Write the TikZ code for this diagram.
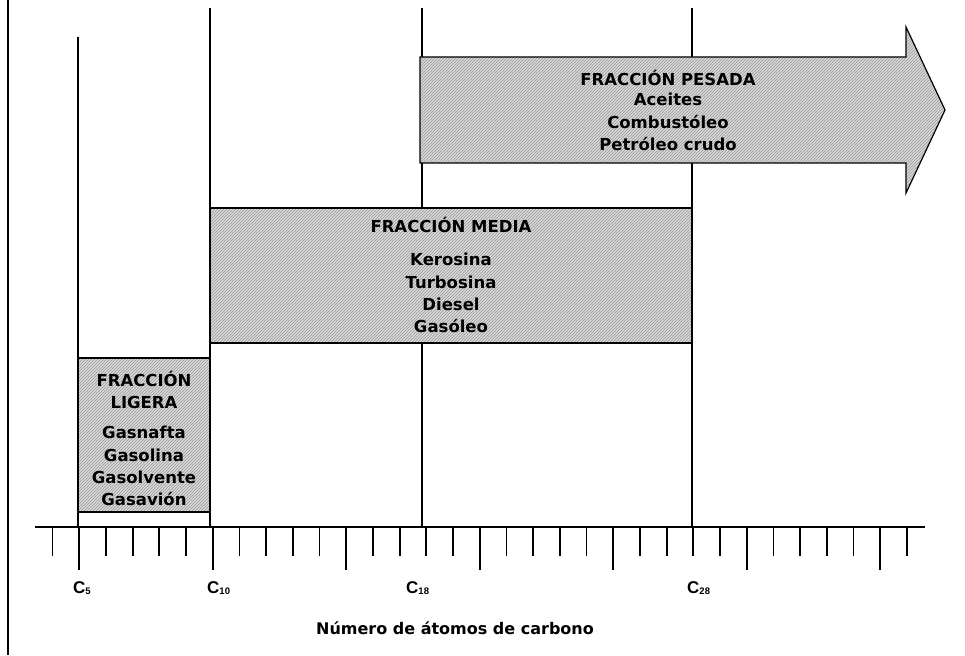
\documentclass[tikz,border=0pt]{standalone}
\usepackage{fontspec}
\setmainfont{DejaVu Sans}
\newfontfamily\arialfont{Liberation Sans}
\usetikzlibrary{patterns}
\tikzset{
  fracbox/.style={line width=1.2pt, preaction={fill=gray!30}, pattern=north east lines, pattern color=gray!80},
  guide/.style={line width=1.2pt},
  axisline/.style={line width=2pt},
  tickmark/.style={line width=1.8pt},
  txt/.style={font=\bfseries\fontsize{16.5}{22.3}\selectfont, align=center, inner sep=0pt},
  clab/.style={font=\arialfont\bfseries\fontsize{17}{17}\selectfont, inner sep=0pt, anchor=west},
  xlab/.style={font=\bfseries\fontsize{16}{16}\selectfont, inner sep=0pt}
}
\newcommand{\csub}[1]{C\raisebox{-0.5pt}{\fontsize{9.5}{9.5}\selectfont #1}}
\begin{document}
\begin{tikzpicture}[x=1pt,y=-1pt]
\useasboundingbox (0,0) rectangle (965,655);
% left border
\draw[line width=2.6pt] (8,0) -- (8,655);
% guide coordinates
\coordinate (g5t) at (78,37);   \coordinate (g5b) at (78,527);
\coordinate (g10t) at (210,8);  \coordinate (g10b) at (210,527);
\coordinate (g18t) at (422,8);  \coordinate (g18b) at (422,527);
\coordinate (g28t) at (692,8);  \coordinate (g28b) at (692,527);
\draw[guide] (g5t) -- (g5b);
\draw[guide] (g10t) -- (g10b);
\draw[guide] (g18t) -- (g18b);
\draw[guide] (g28t) -- (g28b);
% axis
\coordinate (axL) at (35,527); \coordinate (axR) at (925,527);
\draw[axisline] (axL) -- (axR);
\foreach \k in {0,...,32}{
  \pgfmathsetmacro{\xx}{52.5+26.7*\k}
  \pgfmathtruncatemacro{\m}{mod(\k+4,5)}
  \ifnum\m=0
    \draw[tickmark] (\xx,527) -- (\xx,570);
  \else
    \draw[tickmark] (\xx,527) -- (\xx,556);
  \fi
}
% heavy fraction arrow
\draw[fracbox] (420,57) -- (906,57) -- (906,27) -- (945,110) -- (906,193) -- (906,163) -- (420,163) -- cycle;
\node[txt] (pesadaT) at (668,78) {FRACCIÓN PESADA};
\node[txt, anchor=north] (pesadaL) at (668,93) {Aceites\\Combustóleo\\Petróleo crudo};
% middle fraction box
\draw[fracbox] (210,208) rectangle (692,343);
\node[txt] (mediaT) at (451,225) {FRACCIÓN MEDIA};
\node[txt, anchor=north] (mediaL) at (451,253) {Kerosina\\Turbosina\\Diesel\\Gasóleo};
% light fraction box
\draw[fracbox] (78,358) rectangle (210,512);
\node[txt, anchor=north] (ligeraT) at (144,371) {FRACCIÓN\\LIGERA};
\node[txt, anchor=north] (ligeraL) at (144,426) {Gasnafta\\Gasolina\\Gasolvente\\Gasavión};
% axis labels
\node[clab] (c5) at (73,588) {\csub{5}};
\node[clab] (c10) at (207,588) {\csub{10}};
\node[clab] (c18) at (406,588) {\csub{18}};
\node[clab] (c28) at (687,588) {\csub{28}};
\node[xlab] (xtitle) at (455,628) {Número de átomos de carbono};
\end{tikzpicture}
\end{document}
